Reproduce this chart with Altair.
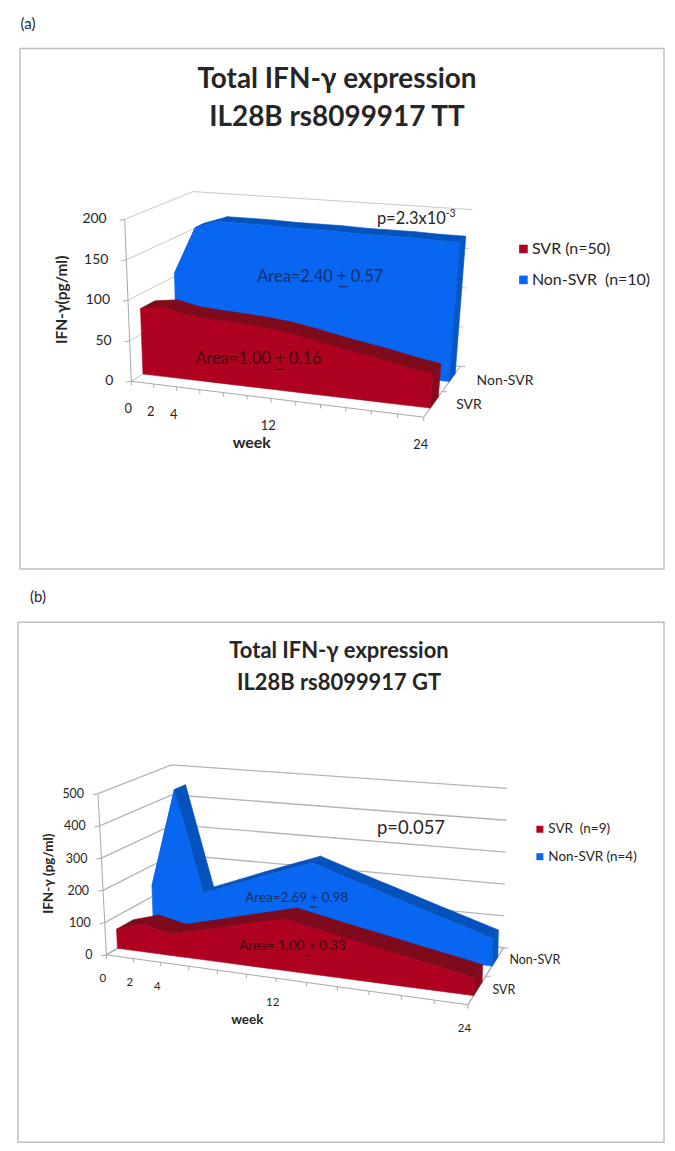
import altair as alt
import pandas as pd

# ---------- data ----------
WEEKS = [0, 2, 4, 6, 8, 10, 12, 14, 16, 18, 20, 22, 24]
WEEK_LABELS = [0, 2, 4, 12, 24]

A_SVR = [82, 86, 80, 78, 77, 75, 72, 67, 61, 56, 51, 45, 40]
A_NON = [104, 166, 176, 176, 176, 175, 175, 175, 174, 174, 174, 173, 173]
A_YTICKS = [0, 50, 100, 150, 200]

B_SVR = [60, 85, 66, 88, 111, 134, 157, 139, 121, 104, 86, 69, 51]
B_NON = [134, 456, 128, 161, 195, 228, 261, 231, 201, 172, 142, 113, 83]
B_YTICKS = [0, 100, 200, 300, 400, 500]

FONT = "Lato"
AXIS = "#a8a8a8"
TEXT = "#262626"
RED, RED_TOP, RED_END = "#ae0220", "#7e0a1c", "#8a081e"
BLUE, BLUE_TOP, BLUE_END = "#0866f0", "#0552bc", "#0556c6"

# 3-D box corners of each plot on the page: (week, value, depth)
A_BOX = dict(
    c000=(131.7, 380.7), c100=(425.0, 416.7), c010=(125.0, 218.3), c110=(437.0, 245.0),
    c001=(196.5, 340.0), c101=(461.7, 365.7), c011=(193.5, 190.4), c111=(474.0, 208.5),
    k=1.09, ymax=200,
    svr=(0.18, 0.40), non=(0.70, 0.86),
)
B_BOX = dict(
    c000=(106.7, 956.0), c100=(469.3, 1006.0), c010=(98.3, 794.3), c110=(474.8, 831.0),
    c001=(176.0, 915.0), c101=(505.0, 949.0), c011=(172.0, 765.5), c111=(508.5, 789.0),
    k=1.13, ymax=500,
    svr=(0.16, 0.40), non=(0.68, 0.84),
)


def project(box, week, value, depth):
    t = week / 24
    t = t / (t + box["k"] * (1 - t)) if t > 0 else 0.0
    v = value / box["ymax"]
    out = []
    for axis in (0, 1):
        total = 0.0
        for i, wi in ((0, 1 - t), (1, t)):
            for j, wj in ((0, 1 - v), (1, v)):
                for m, wm in ((0, 1 - depth), (1, depth)):
                    total += wi * wj * wm * box[f"c{i}{j}{m}"][axis]
        out.append(total)
    return tuple(out)


def make_panel(bounds, width, height, parts):
    xs = alt.Scale(domain=[bounds[0], bounds[1]], nice=False, zero=False)
    ys = alt.Scale(domain=[bounds[3], bounds[2]], nice=False, zero=False)
    X = alt.X("px:Q", scale=xs, axis=None)
    Y = alt.Y("py:Q", scale=ys, axis=None)
    X2 = alt.X2("px2:Q")

    def polygons(polys, color):
        rows = []
        for g, pts in enumerate(polys):
            for i, (a, b) in enumerate(pts + pts[:1]):
                rows.append(dict(g=g, i=i, px=a, py=b))
        return alt.Chart(pd.DataFrame(rows)).mark_line(
            color=color, fill=color, strokeWidth=0.6, interpolate="linear"
        ).encode(x=X, y=Y, detail="g:N", order="i:Q")

    def lines(segs, color, sw=1.0):
        rows = []
        for g, pts in enumerate(segs):
            for i, (a, b) in enumerate(pts):
                rows.append(dict(g=g, i=i, px=a, py=b))
        return alt.Chart(pd.DataFrame(rows)).mark_line(
            color=color, strokeWidth=sw
        ).encode(x=X, y=Y, detail="g:N", order="i:Q")

    def text(x, y, s, size, weight="normal", align="center", angle=0, color=TEXT):
        return alt.Chart(pd.DataFrame([dict(px=x, py=y, s=s)])).mark_text(
            font=FONT, fontSize=size, fontWeight=weight, align=align,
            baseline="middle", angle=angle, color=color,
        ).encode(x=X, y=Y, text="s:N")

    box = parts["box"]
    layers = []

    # panel frame
    x0, y0, x1, y1 = parts["frame"]
    layers.append(lines([[(x0, y0), (x1, y0), (x1, y1), (x0, y1), (x0, y0)]], "#c0c0c0", 1.5))

    # walls
    grid = []
    for tick in parts["yticks"]:
        a = project(box, 0, tick, 0)
        b = project(box, 0, tick, 1)
        c = project(box, 24, tick, 1)
        grid.append([a, b, c])
    grid.append([project(box, 0, 0, 0), project(box, 0, 0, 1)])
    grid.append([project(box, 24, 0, 0), project(box, 24, 0, 1), project(box, 0, 0, 1)])
    layers.append(lines(grid, parts["grid"], parts["grid_w"]))

    # axis lines and tick marks
    ax = [
        [project(box, 0, 0, 0), project(box, 0, box["ymax"], 0)],
        [project(box, 0, 0, 0), project(box, 24, 0, 0)],
        [project(box, 24, 0, 0), project(box, 24, 0, 1)],
    ]
    for w in WEEKS:
        p = project(box, w, 0, 0)
        ax.append([p, (p[0], p[1] + 4)])
    for tick in parts["yticks"]:
        p = project(box, 0, tick, 0)
        ax.append([p, (p[0] - 5, p[1] + 1)])
    for d in (0.5, 1.0):
        p = project(box, 24, 0, d)
        ax.append([p, (p[0] + 5, p[1])])
    layers.append(lines(ax, AXIS, 1.0))

    # ribbons, back series first
    for values, (d1, d2), face, top, end in (
        (parts["non"], box["non"], BLUE, BLUE_TOP, BLUE_END),
        (parts["svr"], box["svr"], RED, RED_TOP, RED_END),
    ):
        strips = []
        for k in range(len(WEEKS) - 1):
            w0, w1, v0, v1 = WEEKS[k], WEEKS[k + 1], values[k], values[k + 1]
            strips.append([project(box, w0, v0, d1), project(box, w1, v1, d1),
                           project(box, w1, v1, d2), project(box, w0, v0, d2)])
        layers.append(polygons(strips, top))
        front = [project(box, w, v, d1) for w, v in zip(WEEKS, values)]
        front += [project(box, w, 0, d1) for w in reversed(WEEKS)]
        layers.append(polygons([front], face))
        cap = [project(box, 24, values[-1], d1), project(box, 24, values[-1], d2),
               project(box, 24, 0, d2), project(box, 24, 0, d1)]
        layers.append(polygons([cap], end))

    # tick labels
    lx, ly = parts["ytick_off"]
    for tick in parts["yticks"]:
        p = project(box, 0, tick, 0)
        layers.append(text(p[0] + lx, p[1] + ly, str(tick), parts["tick_size"], align="right"))
    ox, oy = parts["xtick_off"]
    for w in WEEK_LABELS:
        p = project(box, w, 0, 0)
        layers.append(text(p[0] + ox, p[1] + oy, str(w), parts["tick_size"] - 1))

    # free texts
    for t in parts["texts"]:
        layers.append(text(*t[:3], **t[3]))
    for (x, x2, y, c) in parts["underlines"]:
        layers.append(alt.Chart(pd.DataFrame([dict(px=x, px2=x2, py=y)])).mark_rule(
            color=c, strokeWidth=1.2).encode(x=X, x2=X2, y=Y))
    # legend swatches
    for (x, y, c, s) in parts["swatches"]:
        layers.append(alt.Chart(pd.DataFrame([dict(px=x, py=y)])).mark_square(
            color=c, size=s, opacity=1).encode(x=X, y=Y))

    return alt.layer(*layers).properties(width=width, height=height)


NB = "\u00a0"
NAVY = "#10306a"
MAROON = "#45060f"

panel_a = make_panel(
    (8, 667, 8, 578), 659, 570,
    dict(
        box=A_BOX, svr=A_SVR, non=A_NON, yticks=A_YTICKS, frame=(20, 47, 666, 569),
        grid="#c9c9c9", grid_w=1.0,
        ytick_off=(-18, 0), xtick_off=(-3, 28), tick_size=14,
        texts=[
            (28, 22, "(a)", dict(size=15)),
            (338, 79, "Total IFN-γ expression", dict(size=28, weight="bold")),
            (338, 116.5, "IL28B rs8099917 TT", dict(size=28, weight="bold")),
            (62, 299, "IFN-γ(pg/ml)", dict(size=15.5, weight="bold", angle=270)),
            (252.5, 443, "week", dict(size=16, weight="bold")),
            (378, 217.5, "p=2.3x10", dict(size=16.5, align="left")),
            (447, 213, "-3", dict(size=10.5, align="left")),
            (258, 276, "Area=2.40 + 0.57", dict(size=16.5, align="left", color=NAVY)),
            (196, 358.5, "Area=1.00 + 0.16", dict(size=16.5, align="left", color=MAROON)),
            (533.5, 248, "SVR (n=50)", dict(size=16, align="left")),
            (533.5, 279, f"Non-SVR{NB}{NB}(n=10)", dict(size=16, align="left")),
            (478, 380, "Non-SVR", dict(size=14, align="left")),
            (457.5, 404, "SVR", dict(size=14, align="left")),
        ],
        underlines=[(340, 349, 285.7, NAVY), (275.5, 285, 368.7, MAROON)],
        swatches=[(525, 248, RED, 74), (525, 279, BLUE, 74)],
    ),
)

panel_b = make_panel(
    (8, 667, 578, 1145), 659, 567,
    dict(
        box=B_BOX, svr=B_SVR, non=B_NON, yticks=B_YTICKS, frame=(18, 622.5, 666, 1144),
        grid="#b4b4b4", grid_w=1.3,
        ytick_off=(-14, 0.5), xtick_off=(-3.5, 24.5), tick_size=12.5,
        texts=[
            (38, 597.5, "(b)", dict(size=15)),
            (340, 651, "Total IFN-γ expression", dict(size=22, weight="bold")),
            (340, 683.5, "IL28B rs8099917 GT", dict(size=22, weight="bold")),
            (49.5, 874.5, "IFN-γ (pg/ml)", dict(size=13.5, weight="bold", angle=270)),
            (248, 1021, "week", dict(size=13.5, weight="bold")),
            (378, 829, "p=0.057", dict(size=18.5, align="left")),
            (246, 899, "Area=2.69 + 0.98", dict(size=13.5, align="left", color=NAVY)),
            (240, 947, "Area= 1.00 + 0.33", dict(size=13.5, align="left", color=MAROON)),
            (550, 830, f"SVR{NB}{NB}(n=9)", dict(size=13.5, align="left")),
            (550, 857.5, f"Non-SVR{NB}(n=4)", dict(size=13.5, align="left")),
            (511, 961, "Non-SVR", dict(size=12.5, align="left")),
            (494, 991, "SVR", dict(size=12.5, align="left")),
        ],
        underlines=[(311, 317, 908, NAVY), (306, 312.5, 956.7, MAROON)],
        swatches=[(541.5, 830, RED, 49), (541.5, 857.5, BLUE, 49)],
    ),
)

chart = alt.vconcat(panel_a, panel_b, spacing=0, bounds="flush", padding=0).configure_view(stroke=None)
chart.save("out.html", embed_options={"renderer": "svg", "actions": False})
